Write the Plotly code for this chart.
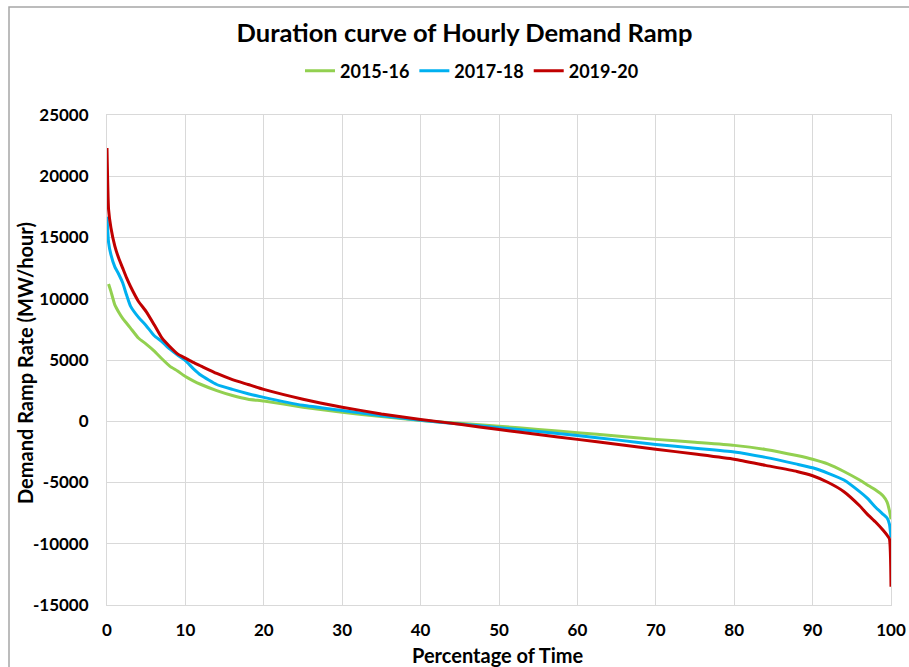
import plotly.graph_objects as go

pct = [0, 0.2, 0.5, 1, 1.5, 2, 2.5, 3, 4, 5, 6, 7, 8, 9, 10, 11, 12, 14, 16, 18, 20,
       25, 30, 35, 40, 45, 50, 55, 60, 65, 70, 75, 80, 84, 88, 90, 92, 94, 96,
       97, 98, 99, 99.5, 99.8, 100]

pct_green = pct[1:]
ramp_2015_16 = [11200, 10600, 9500, 8900, 8400, 8000, 7600, 6800, 6300, 5750, 5100, 4500,
                4100, 3650, 3300, 3000, 2500, 2100, 1800, 1650,
                1150, 730, 380, 60, -170, -400, -670, -940, -1200, -1480, -1720,
                -1970, -2300, -2800, -3100, -3500, -4100, -4800, -5200, -5600,
                -6100, -6600, -7300, -8000]

ramp_2017_18 = [16700, 14600, 13600, 12600, 12000, 11300, 10300, 9400, 8500, 7800, 7000, 6500,
                5900, 5400, 4950, 4300, 3750, 3000, 2600, 2250, 1950,
                1300, 880, 450, 80, -220, -520, -840, -1160, -1520, -1890, -2200,
                -2510, -2950, -3500, -3800, -4250, -4800, -5750, -6300, -7000,
                -7600, -7900, -8400, -9500]

ramp_2019_20 = [22300, 17300, 15800, 14300, 13300, 12500, 11700, 11000, 9800, 8950, 7900, 6800,
                6100, 5500, 5150, 4800, 4500, 3900, 3400, 3000, 2600,
                1800, 1150, 600, 150, -250, -680, -1080, -1480, -1880, -2280, -2680,
                -3100, -3600, -4100, -4450, -5000, -5750, -6900, -7600, -8200,
                -8900, -9300, -9600, -13500]

x_ticks = [0, 10, 20, 30, 40, 50, 60, 70, 80, 90, 100]
y_ticks = [-15000, -10000, -5000, 0, 5000, 10000, 15000, 20000, 25000]

series = [
    ("2015-16", pct_green, ramp_2015_16, "#92D050"),
    ("2017-18", pct, ramp_2017_18, "#00B0F0"),
    ("2019-20", pct, ramp_2019_20, "#C00000"),
]

FONT = "Lato"

fig = go.Figure()
for name, xs, ys, color in series:
    fig.add_trace(go.Scatter(x=xs, y=ys, mode="lines", name="<b>" + name + "</b>",
                             line=dict(color=color, width=3, shape="spline",
                                       smoothing=0.5)))

grid = "#D9D9D9"
L, R, T, B = 107, 18, 115, 62
fig.update_layout(
    width=909, height=667,
    margin=dict(l=L, r=R, t=T, b=B, autoexpand=False),
    paper_bgcolor="white", plot_bgcolor="white",
    font=dict(family=FONT, color="black"),
    title=dict(text="<b>Duration curve of Hourly Demand Ramp</b>",
               x=0.511, xanchor="center", y=1 - 33 / 667, yanchor="middle",
               font=dict(size=25.5, family=FONT, color="black")),
    showlegend=True,
    legend=dict(orientation="h", x=(472 - L) / 784, xanchor="center",
                y=(605 - 71) / 490, yanchor="middle",
                font=dict(size=18, family=FONT, color="black"),
                itemwidth=30, tracegroupgap=0, bgcolor="rgba(0,0,0,0)"),
    xaxis=dict(range=[0, 100], tickvals=x_ticks,
               ticktext=["<b>%d</b>" % v for v in x_ticks],
               showgrid=True, gridcolor=grid, automargin=False,
               gridwidth=1, zeroline=False, showline=True, linecolor=grid,
               mirror=True, ticks="outside", ticklen=10, tickcolor="rgba(0,0,0,0)",
               tickfont=dict(size=17, family=FONT)),
    yaxis=dict(range=[-15000, 25000], tickvals=y_ticks,
               ticktext=["<b>%d</b>" % v for v in y_ticks],
               showgrid=True, gridcolor=grid, automargin=False,
               gridwidth=1, zeroline=True, zerolinecolor=grid, zerolinewidth=1,
               showline=True, linecolor=grid, mirror=True,
               ticks="outside", ticklen=14, tickcolor="rgba(0,0,0,0)",
               tickfont=dict(size=17, family=FONT)),
    annotations=[
        dict(text="<b>Percentage of Time</b>", xref="paper", yref="paper",
             x=(498 - L) / 784, y=(605 - 655) / 490, xanchor="center", yanchor="middle",
             showarrow=False, font=dict(size=20, family=FONT, color="black")),
        dict(text="<b>Demand Ramp Rate (MW/hour)</b>", xref="paper", yref="paper",
             x=(25 - L) / 784, y=(605 - 363) / 490, xanchor="center", yanchor="middle",
             textangle=-90, showarrow=False,
             font=dict(size=20, family=FONT, color="black")),
    ],
    shapes=[dict(type="rect", xref="paper", yref="paper",
                 x0=(9 - L) / 784, x1=1.2, y0=-0.3, y1=(605 - 7) / 490,
                 line=dict(color="#A6A6A6", width=1.5), layer="below")],
)

fig.write_html("out.html", config={"displayModeBar": False},
               post_script="document.body.style.margin='0px';")
